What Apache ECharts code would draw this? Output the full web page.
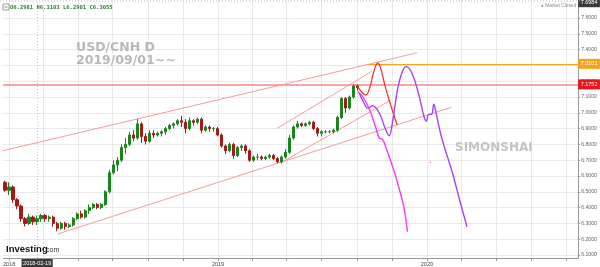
<!DOCTYPE html>
<html><head><meta charset="utf-8">
<script src="https://cdn.jsdelivr.net/npm/echarts@6/dist/echarts.min.js"></script>
<style>html,body{margin:0;padding:0;background:#fff}#c{width:600px;height:267px}</style>
</head><body><div id="c"></div>
<script>
// weekly candles (Monday of each week)
const weeks = ['2017-12-25','2018-01-01','2018-01-08','2018-01-15','2018-01-22','2018-01-29','2018-02-05','2018-02-12','2018-02-19','2018-02-26',
'2018-03-05','2018-03-12','2018-03-19','2018-03-26','2018-04-02','2018-04-09','2018-04-16','2018-04-23','2018-04-30','2018-05-07',
'2018-05-14','2018-05-21','2018-05-28','2018-06-04','2018-06-11','2018-06-18','2018-06-25','2018-07-02','2018-07-09','2018-07-16',
'2018-07-23','2018-07-30','2018-08-06','2018-08-13','2018-08-20','2018-08-27','2018-09-03','2018-09-10','2018-09-17','2018-09-24',
'2018-10-01','2018-10-08','2018-10-15','2018-10-22','2018-10-29','2018-11-05','2018-11-12','2018-11-19','2018-11-26','2018-12-03',
'2018-12-10','2018-12-17','2018-12-24','2018-12-31','2019-01-07','2019-01-14','2019-01-21','2019-01-28','2019-02-04','2019-02-11',
'2019-02-18','2019-02-25','2019-03-04','2019-03-11','2019-03-18','2019-03-25','2019-04-01','2019-04-08','2019-04-15','2019-04-22',
'2019-04-29','2019-05-06','2019-05-13','2019-05-20','2019-05-27','2019-06-03','2019-06-10','2019-06-17','2019-06-24','2019-07-01',
'2019-07-08','2019-07-15','2019-07-22','2019-07-29','2019-08-05','2019-08-12','2019-08-19','2019-08-26','2019-09-02'];
const opens = [6.56,6.51,6.53,6.45,6.41,6.33,6.30,6.34,6.31,6.33,
6.35,6.33,6.34,6.30,6.27,6.30,6.28,6.29,6.33,6.36,
6.34,6.38,6.40,6.42,6.40,6.42,6.50,6.62,6.67,6.70,
6.78,6.80,6.86,6.84,6.93,6.85,6.82,6.87,6.86,6.87,
6.88,6.90,6.92,6.93,6.95,6.94,6.90,6.95,6.94,6.96,
6.89,6.91,6.90,6.90,6.86,6.79,6.76,6.80,6.73,6.78,
6.79,6.76,6.70,6.72,6.72,6.71,6.72,6.73,6.71,6.69,
6.72,6.75,6.84,6.91,6.93,6.92,6.93,6.94,6.90,6.87,
6.88,6.88,6.88,6.89,6.97,7.09,7.03,7.10,7.17];
const closes = [6.51,6.53,6.45,6.41,6.33,6.30,6.34,6.31,6.33,6.35,
6.33,6.34,6.30,6.27,6.30,6.28,6.29,6.33,6.36,6.34,
6.38,6.40,6.42,6.40,6.42,6.50,6.62,6.67,6.70,6.78,
6.80,6.86,6.84,6.93,6.85,6.82,6.87,6.86,6.87,6.88,
6.90,6.92,6.93,6.95,6.94,6.90,6.95,6.94,6.96,6.89,
6.91,6.90,6.90,6.86,6.79,6.76,6.80,6.73,6.78,6.79,
6.76,6.70,6.72,6.72,6.71,6.72,6.73,6.71,6.69,6.72,
6.75,6.84,6.91,6.93,6.92,6.93,6.94,6.90,6.87,6.88,
6.88,6.88,6.89,6.97,7.09,7.03,7.10,7.17,7.16];
const lows = [6.50,6.48,6.43,6.39,6.31,6.28,6.29,6.29,6.29,6.31,
6.31,6.31,6.28,6.25,6.26,6.26,6.27,6.28,6.32,6.33,
6.33,6.36,6.39,6.39,6.39,6.41,6.49,6.61,6.63,6.69,
6.74,6.79,6.82,6.83,6.81,6.80,6.81,6.84,6.85,6.85,
6.86,6.89,6.90,6.92,6.91,6.87,6.89,6.92,6.93,6.87,
6.88,6.88,6.88,6.85,6.78,6.74,6.75,6.71,6.72,6.76,
6.74,6.69,6.69,6.70,6.70,6.70,6.71,6.70,6.68,6.68,
6.71,6.74,6.83,6.90,6.91,6.91,6.92,6.89,6.85,6.85,
6.87,6.87,6.87,6.88,6.96,7.00,7.02,7.09,7.14];
const highs = [6.57,6.56,6.54,6.46,6.42,6.34,6.36,6.35,6.35,6.36,
6.36,6.35,6.35,6.31,6.31,6.31,6.30,6.34,6.37,6.38,
6.39,6.42,6.43,6.43,6.43,6.51,6.64,6.70,6.72,6.80,
6.84,6.88,6.89,6.96,6.94,6.87,6.89,6.89,6.88,6.89,
6.91,6.93,6.94,6.96,6.98,6.96,6.97,6.96,6.97,6.97,
6.92,6.92,6.91,6.91,6.87,6.80,6.81,6.81,6.79,6.80,
6.80,6.77,6.73,6.74,6.73,6.73,6.74,6.74,6.72,6.73,
6.77,6.86,6.92,6.95,6.94,6.94,6.95,6.95,6.91,6.89,
6.89,6.89,6.90,6.98,7.10,7.10,7.11,7.18,7.18];

// drawn trend lines
const trendA = [['2017-12-21', 6.760], ['2019-12-15', 7.380]];
const trendB = [['2018-03-27', 6.233], ['2020-02-13', 7.035]];
const trendC = [['2019-04-14', 6.901], ['2019-09-26', 7.261]];
const trendD = [['2019-04-20', 6.682], ['2019-10-27', 7.075]];

// drawn projection paths
const redPath = [['2019-09-02',7.166],['2019-09-09',7.132],['2019-09-16',7.113],['2019-09-23',7.157],['2019-09-30',7.258],['2019-10-07',7.315],['2019-10-12',7.284],['2019-10-19',7.182],['2019-10-27',7.081],['2019-11-03',6.999],['2019-11-10',6.923]];
const purplePath = [['2019-09-05',7.123],['2019-09-12',7.070],['2019-09-20',7.028],['2019-09-28',7.045],['2019-10-10',6.997],['2019-10-19',6.912],['2019-10-27',6.855],['2019-11-02',6.944],['2019-11-11',7.155],['2019-11-19',7.260],['2019-11-26',7.292],['2019-12-06',7.250],['2019-12-18',7.113],['2019-12-27',6.975],['2019-12-31',6.948],['2020-01-04',6.990],['2020-01-09',6.990],['2020-01-13',7.054],['2020-01-17',6.997],['2020-01-27',6.839],['2020-02-14',6.627],['2020-02-28',6.437],['2020-03-11',6.279]];
const magentaPath = [['2019-09-02',7.134],['2019-09-11',7.102],['2019-09-23',7.018],['2019-10-04',6.902],['2019-10-10',6.839],['2019-10-15',6.834],['2019-10-24',6.754],['2019-11-05',6.627],['2019-11-15',6.501],['2019-11-22',6.396],['2019-11-28',6.247]];
const magentaDot = [['2020-01-07', 6.687]];

// levels and labels
const closeLevel = 7.1752;
const targetLevel = 7.3101;
const topLevel = 7.6984;
const targetStart = '2019-09-17';
const crossDate = '2018-02-19';
const header = 'O6.2981 H6.3103 L6.2901 C6.3055';

// axis ticks
const yTicks = [6.1,6.2,6.3,6.4,6.5,6.6,6.7,6.8,6.9,7.0,7.1,7.2,7.3,7.4,7.5,7.6];
const xTickDates = ['2018-01-01','2018-03-01','2018-05-01','2018-07-01','2018-09-01','2018-11-01','2019-01-01','2019-03-01','2019-05-01','2019-07-01','2019-09-01','2019-11-01','2020-01-01','2020-03-01','2020-05-01','2020-07-01','2020-09-01'];
const xLabelDates = ['2018-01-01','2019-01-01','2020-01-01'];

const P = s => echarts.time.parse(s).getTime();
const pts = arr => arr.map(p => [P(p[0]), p[1]]);
const candles = weeks.map((d,i)=>[P(d), opens[i], closes[i], lows[i], highs[i]]);
const X_MIN = P('2017-12-21 14:00'), X_MAX = P('2020-09-21 05:00');
const FONT = 'Liberation Sans, Arial, sans-serif';
const trendColor = '#f49c9c';
function lineSeries(data, color, width, smooth, z){
  return {type:'line', data: pts(data), symbol:'none', smooth: smooth, z: z||3, silent:true,
    lineStyle:{color, width}, itemStyle:{color}};
}
const boxLabel = (txt, bg) => ({show:true, position:'end', distance:0, formatter:txt, backgroundColor:bg, color:'#fff', fontSize:5.5, padding:[2,2.5], fontFamily:FONT});

const chart = echarts.init(document.getElementById('c'), null, {renderer:'canvas'});
chart.setOption({
  animation:false,
  backgroundColor:'#fff',
  grid:{left:0, right:19.3, top:0, bottom:9},
  xAxis:{type:'value', min:X_MIN, max:X_MAX,
    axisLine:{show:true, lineStyle:{color:'#999', width:1}},
    axisTick:{show:true, length:3, customValues:xTickDates.map(P), lineStyle:{color:'#999'}},
    axisLabel:{customValues:xLabelDates.map(P), formatter:v=>String(new Date(v).getFullYear()), fontSize:5.5, color:'#444', margin:3, fontFamily:FONT},
    splitLine:{show:true, lineStyle:{color:'#e9e9e9', width:1}}},
  yAxis:{type:'value', position:'right', min:6.081, max:7.714,
    axisLine:{show:true, lineStyle:{color:'#999'}},
    axisTick:{show:true, length:2, customValues:yTicks, lineStyle:{color:'#999'}},
    axisLabel:{customValues:yTicks, formatter:v=>v.toFixed(4), fontSize:5.2, color:'#666', margin:3, fontFamily:FONT},
    splitLine:{show:true, lineStyle:{color:'#e9e9e9', width:1}}},
  graphic:[
    {type:'line', z:10, shape:{x1:0,y1:1,x2:581,y2:1}, style:{stroke:'#bbb', lineDash:[1,2], lineWidth:1}},
    {type:'rect', z:10, shape:{x:3,y:4,width:6,height:6}, style:{fill:'#fff', stroke:'#888', lineWidth:0.8}},
    {type:'line', z:10, shape:{x1:4.5,y1:7,x2:7.5,y2:7}, style:{stroke:'#666', lineWidth:0.8}},
    {type:'text', z:10, left:10, top:4.5, style:{text:header, fill:'#2f7d32', font:'bold 5.5px DejaVu Sans Mono'}},
    {type:'text', z:10, left:541, top:3.5, style:{text:'● Market Closed', fill:'#888', font:'4.8px '+FONT}},
    {type:'text', left:76, top:41, z:1, style:{text:'USD/CNH D', fill:'#b8b8b8', font:'bold 12.5px DejaVu Sans'}},
    {type:'text', left:76, top:54, z:1, style:{text:'2019/09/01~~', fill:'#b8b8b8', font:'bold 12.5px DejaVu Sans'}},
    {type:'text', left:455, top:142, z:1, style:{text:'SIMONSHAI', fill:'#c4c4c4', font:'bold 12px DejaVu Sans'}},
    {type:'text', z:10, left:6, top:244, style:{text:'Investing', fill:'#111', font:'bold 9.5px '+FONT}},
    {type:'text', z:10, left:46, top:247, style:{text:'com', fill:'#333', font:'7px '+FONT}}
  ],
  series:[
    lineSeries(trendA, trendColor, 1, false, 2),
    lineSeries(trendB, trendColor, 1, false, 2),
    lineSeries(trendC, trendColor, 1, false, 2),
    lineSeries(trendD, trendColor, 1, false, 2),
    {type:'candlestick', data:candles, encode:{x:0, y:[1,2,3,4]}, barWidth:2.8, z:4, silent:true,
      itemStyle:{color:'#17861b', color0:'#a81818', borderColor:'#17861b', borderColor0:'#a81818', borderWidth:1},
      markLine:{symbol:'none', silent:true, animation:false, z:1,
        data:[
          {yAxis:closeLevel, lineStyle:{color:'#f7a5a5', width:2, type:'solid'}, label:boxLabel(closeLevel.toFixed(4), '#e8131b')},
          {yAxis:topLevel, lineStyle:{color:'rgba(0,0,0,0)', width:1}, label:boxLabel(topLevel.toFixed(4), '#3a3a3a')},
          [{coord:[P(targetStart), targetLevel], lineStyle:{color:'#f7a21b', width:1.2, type:'solid'}, label:boxLabel(targetLevel.toFixed(4), '#f7a21b')},
           {coord:[X_MAX, targetLevel]}],
          {xAxis:P(crossDate), lineStyle:{color:'#c8c8c8', width:1, type:[1,2]},
            label:{show:true, position:'start', distance:1, formatter:crossDate, backgroundColor:'#3a3a3a', color:'#fff', fontSize:5.5, padding:[1.5,1.5], fontFamily:FONT}}
        ]}},
    lineSeries(redPath, '#f42a2a', 1.2, 0.4, 5),
    lineSeries(purplePath, '#a544f2', 1.4, 0.4, 5),
    lineSeries(magentaPath, '#f23cf2', 1.4, 0.4, 5),
    {type:'scatter', data:pts(magentaDot), symbolSize:1.5, itemStyle:{color:'#f23cf2'}, silent:true, z:5}
  ]
});
</script></body></html>
